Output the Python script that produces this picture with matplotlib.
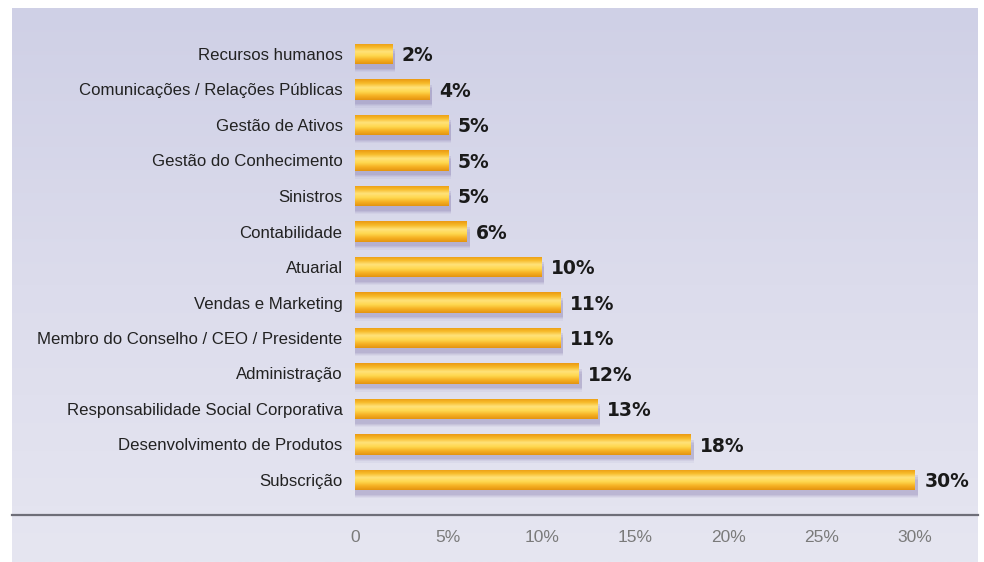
import numpy as np
import matplotlib
matplotlib.use("Agg")
import matplotlib.pyplot as plt
from matplotlib.colors import LinearSegmentedColormap

categories = ["Recursos humanos", "Comunicações / Relações Públicas", "Gestão de Ativos",
              "Gestão do Conhecimento", "Sinistros", "Contabilidade", "Atuarial",
              "Vendas e Marketing", "Membro do Conselho / CEO / Presidente", "Administração",
              "Responsabilidade Social Corporativa", "Desenvolvimento de Produtos", "Subscrição"]
values = [2, 4, 5, 5, 5, 6, 10, 11, 11, 12, 13, 18, 30]
xticks = [0, 5, 10, 15, 20, 25, 30]
xticklabels = ["0", "5%", "10%", "15%", "20%", "25%", "30%"]

W, H = 984, 562
fig = plt.figure(figsize=(W / 100, H / 100), dpi=100)
fig.patch.set_facecolor("white")

# lavender panel with soft vertical gradient
bg = fig.add_axes([12 / W, 0, (978 - 12) / W, 1 - 8 / H])
bg_cmap = LinearSegmentedColormap.from_list("bg", ["#cfd0e6", "#dcdcec", "#e6e6f1"])
bg.imshow(np.linspace(0, 1, 256)[:, None], aspect="auto", cmap=bg_cmap,
          extent=[0, 1, 0, 1], origin="upper")
bg.set_axis_off()

# baseline rule across the panel
fig.add_artist(plt.Line2D([12 / W, 978 / W], [1 - 515 / H] * 2, color="#6e6e78", lw=1.6))

ax = fig.add_axes([355 / W, 1 - 515 / H, (978 - 355) / W, (515 - 20) / H])
ax.set_facecolor("none")
x_per_px = 30 / (915 - 355)
ax.set_xlim(0, (978 - 355) * x_per_px)
step = 35.5
ax.set_ylim((515 - 54) / step, (20 - 54) / step)

bar_cmap = LinearSegmentedColormap.from_list(
    "bar", ["#eb9a12", "#f7bb2a", "#ffe27a", "#ffd850", "#f6b224", "#e49410"])
grad = np.linspace(0, 1, 64)[:, None]
bh = 0.57
y = np.arange(len(values))

# soft purple shadow under each bar
for dy, hh, a in [(0.26, 0.50, 0.06), (0.22, 0.50, 0.08), (0.18, 0.52, 0.10), (0.14, 0.55, 0.12)]:
    ax.barh(y + dy, [v + 0.15 for v in values], height=hh,
            color="#6a5a9a", alpha=a, lw=0, zorder=1)

bars = ax.barh(y, values, height=bh, color="#f5b020", lw=0, zorder=2)
for b, v in zip(bars, values):
    im = ax.imshow(grad, aspect="auto", cmap=bar_cmap, origin="upper",
                   extent=[0, v, b.get_y() + bh, b.get_y()], zorder=3)
    im.set_clip_path(b)
    ax.text(v + 0.5, b.get_y() + bh / 2 + 0.05, f"{v}%", va="center", ha="left",
            fontsize=13.5, fontweight="bold", color="#1a1a1a", family="DejaVu Sans", zorder=4)

ax.set_yticks(y)
ax.set_yticklabels(categories, family="Liberation Sans", fontsize=12.1, color="#222222")
ax.set_xticks(xticks)
ax.set_xticklabels(xticklabels, family="Liberation Sans", fontsize=12.5, color="#7a7a7a")
ax.tick_params(axis="y", length=0, pad=9)
ax.tick_params(axis="x", length=0, pad=11)
for s in ax.spines.values():
    s.set_visible(False)

fig.savefig("out.png", dpi=100)
